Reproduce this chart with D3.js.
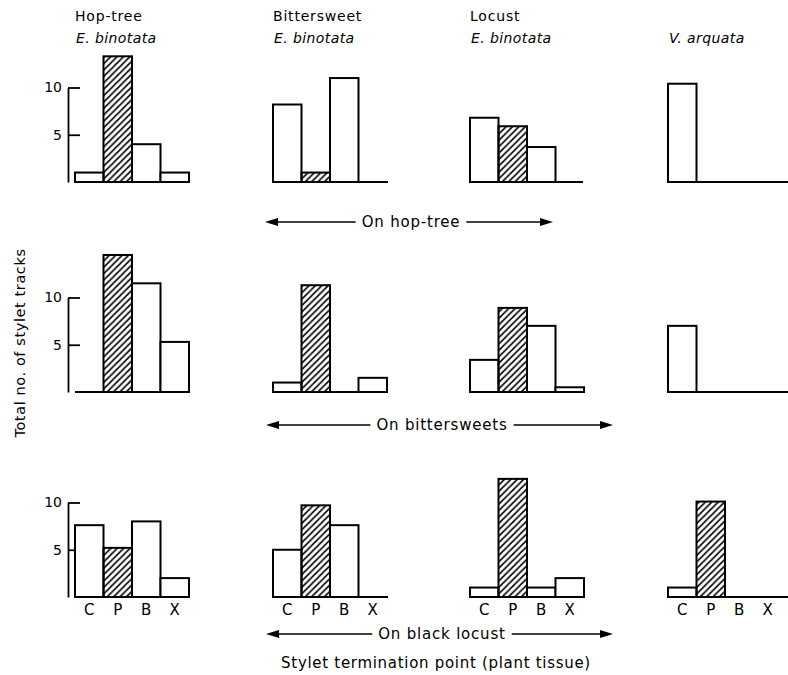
<!DOCTYPE html>
<html>
<head>
<meta charset="utf-8">
<script src="https://cdn.jsdelivr.net/npm/d3@7"></script>
<style>
  html, body { margin: 0; padding: 0; background: #fff; }
  svg { display: block; }
  text { font-family: "DejaVu Sans", "Liberation Sans", sans-serif; fill: #000; }
</style>
</head>
<body>
<svg id="chart" width="788" height="675"></svg>
<script>
// ---------------- data ----------------
const categories = ["C", "P", "B", "X"];
const hatchedCategory = "P";
const columnHosts = ["Hop-tree", "Bittersweet", "Locust", ""];
const columnSpecies = ["E. binotata", "E. binotata", "E. binotata", "V. arquata"];
const rowLabels = ["On hop-tree", "On bittersweets", "On black locust"];
const yTicks = [5, 10];
const yLabel = "Total no. of stylet tracks";
const xLabel = "Stylet termination point (plant tissue)";

// values per column (hop-tree E.b., bittersweet E.b., locust E.b., V. arquata)
const onHopTree = [
  [1, 13.3, 4, 1],
  [8.2, 1, 11, 0],
  [6.8, 5.9, 3.7, 0],
  [10.4, 0, 0, 0]
];
const onBittersweet = [
  [0, 14.5, 11.5, 5.3],
  [1, 11.3, 0, 1.5],
  [3.4, 8.9, 7, 0.5],
  [7, 0, 0, 0]
];
const onBlackLocust = [
  [7.6, 5.2, 8, 2],
  [5, 9.7, 7.6, 0],
  [1, 12.5, 1, 2],
  [1, 10.1, 0, 0]
];
const rows = [onHopTree, onBittersweet, onBlackLocust];

// ---------------- layout ----------------
const svg = d3.select("#chart");
const colLeft = [75, 273, 470, 668];
const baselineY = [182, 392, 597];
const axisX = 68;
const panelW = 114;
const baseEnd = [189, 388, 583, 788];

const x = d3.scaleBand().domain(categories).range([0, panelW]).padding(0);
const y = d3.scaleLinear().domain([0, 10]).range([0, -94.5]);

// hatch pattern
const defs = svg.append("defs");
const hs = 6.4;
const pat = defs.append("pattern")
  .attr("id", "hatch").attr("patternUnits", "userSpaceOnUse")
  .attr("width", hs).attr("height", hs);
pat.append("path")
  .attr("d", `M-1,1 L1,-1 M0,${hs} L${hs},0 M${hs - 1},${hs + 1} L${hs + 1},${hs - 1}`)
  .attr("stroke", "#000").attr("stroke-width", 1.6);

// titles
columnHosts.forEach((h, i) => {
  if (h) svg.append("text").attr("x", colLeft[i]).attr("y", 21)
    .attr("font-size", 14).attr("letter-spacing", 0.8).text(h);
  svg.append("text").attr("x", colLeft[i] + 1).attr("y", 43)
    .attr("font-size", 14).attr("letter-spacing", 0.4).attr("font-style", "italic").text(columnSpecies[i]);
});

rows.forEach((row, r) => {
  const by = baselineY[r];
  // y axis
  const ax = svg.append("g").attr("transform", `translate(${axisX},${by})`)
    .call(d3.axisLeft(y).tickValues(yTicks).tickSizeInner(-12).tickSizeOuter(0).tickPadding(6));
  ax.selectAll("path,line").attr("stroke", "#000").attr("stroke-width", 1.8);
  ax.selectAll("text").attr("font-size", 14).attr("font-family", "DejaVu Sans, sans-serif");

  row.forEach((vals, c) => {
    const g = svg.append("g").attr("transform", `translate(${colLeft[c]},${by})`);
    // baseline
    g.append("line").attr("x1", 0).attr("x2", baseEnd[c] - colLeft[c])
      .attr("y1", 0).attr("y2", 0).attr("stroke", "#000").attr("stroke-width", 2.2);
    g.selectAll("rect.bar").data(categories.map((k, i) => ({ k, v: vals[i] })).filter(d => d.v > 0))
      .join("rect").attr("class", "bar")
      .attr("x", d => x(d.k)).attr("width", x.bandwidth())
      .attr("y", d => y(d.v)).attr("height", d => -y(d.v))
      .attr("fill", d => d.k === hatchedCategory ? "url(#hatch)" : "#fff")
      .attr("stroke", "#000").attr("stroke-width", 2);
    if (r === 2) {
      const xa = g.append("g").call(d3.axisBottom(x).tickSize(0).tickPadding(7));
      xa.select(".domain").remove();
      xa.selectAll("text").attr("font-size", 15).attr("font-family", "DejaVu Sans, sans-serif");
    }
  });
});

// row arrows
const arrows = [
  { y: 222, x1: 265, x2: 553, cx: 411 },
  { y: 425, x1: 266, x2: 613, cx: 442 },
  { y: 634, x1: 266, x2: 613, cx: 442 }
];
arrows.forEach((a, i) => {
  const t = svg.append("text").attr("x", a.cx).attr("y", a.y + 5)
    .attr("text-anchor", "middle").attr("font-size", 15).attr("letter-spacing", 0.8).text(rowLabels[i]);
  const bb = t.node().getBBox();
  const g = svg.append("g").attr("stroke", "#000").attr("stroke-width", 1.5);
  g.append("line").attr("x1", a.x1 + 8).attr("x2", bb.x - 6).attr("y1", a.y).attr("y2", a.y);
  g.append("line").attr("x1", bb.x + bb.width + 6).attr("x2", a.x2 - 8).attr("y1", a.y).attr("y2", a.y);
  svg.append("path").attr("d", `M${a.x1},${a.y} L${a.x1 + 13},${a.y - 4} L${a.x1 + 13},${a.y + 4} Z`).attr("fill", "#000");
  svg.append("path").attr("d", `M${a.x2},${a.y} L${a.x2 - 13},${a.y - 4} L${a.x2 - 13},${a.y + 4} Z`).attr("fill", "#000");
});

// axis titles
svg.append("text").attr("x", 436).attr("y", 668).attr("text-anchor", "middle")
  .attr("font-size", 15).attr("letter-spacing", 0.7).text(xLabel);
svg.append("text").attr("transform", "translate(25,343) rotate(-90)")
  .attr("text-anchor", "middle").attr("font-size", 14.5).attr("letter-spacing", 0.6).text(yLabel);
</script>
</body>
</html>
